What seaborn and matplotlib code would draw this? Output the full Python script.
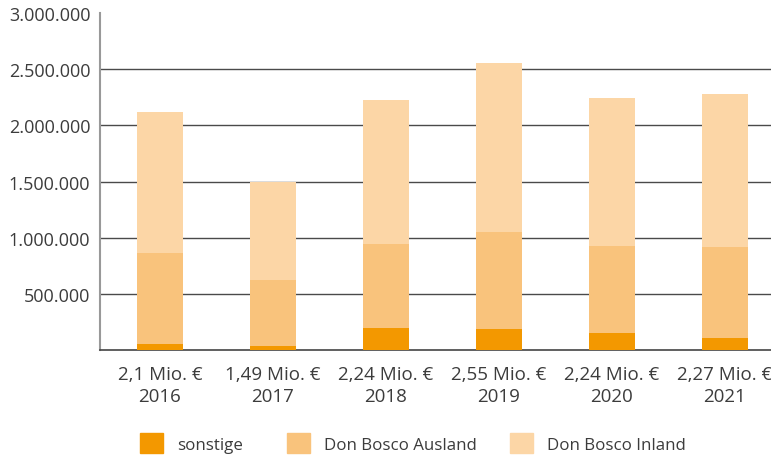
import matplotlib
matplotlib.use("Agg")
import matplotlib.pyplot as plt
import matplotlib.patches as mpatches
from matplotlib.ticker import FuncFormatter
import seaborn as sns
import pandas as pd

years = ["2016", "2017", "2018", "2019", "2020", "2021"]
totals_label = ["2,1 Mio. €", "1,49 Mio. €", "2,24 Mio. €", "2,55 Mio. €", "2,24 Mio. €", "2,27 Mio. €"]
sonstige = [54000, 36000, 196000, 188000, 152000, 107000]
ausland = [812000, 589000, 750000, 866000, 777000, 813000]
inland = [1250000, 875000, 1277000, 1500000, 1311000, 1357000]
series_names = ["sonstige", "Don Bosco Ausland", "Don Bosco Inland"]

c_son = "#F39800"
c_aus = "#F9C37C"
c_inl = "#FCD6A6"
txt = "#3c3c3c"

sns.set_theme(style="white")
plt.rcParams['font.family'] = ['Open Sans', 'DejaVu Sans']

labels = [f"{t}\n{y}" for t, y in zip(totals_label, years)]
df = pd.DataFrame({"label": labels, "son": sonstige, "aus": ausland, "inl": inland})
df["lvl2"] = df["son"] + df["aus"]
df["lvl3"] = df["lvl2"] + df["inl"]

fig = plt.figure(figsize=(7.71, 4.56), dpi=100)
ax = fig.add_axes([100/771, 105/456, 671/771, 337/456])

for col, c in [("lvl3", c_inl), ("lvl2", c_aus), ("son", c_son)]:
    sns.barplot(data=df, x="label", y=col, order=labels, color=c, width=0.41,
                saturation=1, ax=ax, zorder=3, linewidth=0)

ax.set_xlim(-0.53, 5.41)
ax.set_ylim(0, 3000000)
ax.set_yticks([500000, 1000000, 1500000, 2000000, 2500000, 3000000])
ax.yaxis.set_major_formatter(FuncFormatter(lambda v, p: f"{int(v):,}".replace(",", ".")))
for v in [500000, 1000000, 1500000, 2000000, 2500000]:
    ax.axhline(v, color="#4a4a4a", lw=1.0, zorder=1)
ax.set_xlabel("")
ax.set_ylabel("")
for s in ["top", "right"]:
    ax.spines[s].set_visible(False)
ax.spines["left"].set_color("#999999")
ax.spines["left"].set_linewidth(1.5)
ax.spines["bottom"].set_color("#444444")
ax.spines["bottom"].set_linewidth(1.2)
ax.tick_params(axis="both", length=0, colors=txt)
ax.tick_params(axis="y", pad=7, labelsize=13)
ax.tick_params(axis="x", pad=10.5, labelsize=13.5)
for t in ax.get_xticklabels():
    t.set_linespacing(1.3)

cols = [c_son, c_aus, c_inl]
xs = [140, 287, 510]
for name, c, x in zip(series_names, cols, xs):
    h = mpatches.Patch(color=c, label=name)
    fig.legend(handles=[h], loc="center left", bbox_to_anchor=(x/771, 12/456),
               frameon=False, fontsize=12.2, handlelength=1.36, handleheight=1.36,
               handletextpad=0.85, borderaxespad=0, borderpad=0, labelcolor=txt)

fig.savefig("out.png", dpi=100)
